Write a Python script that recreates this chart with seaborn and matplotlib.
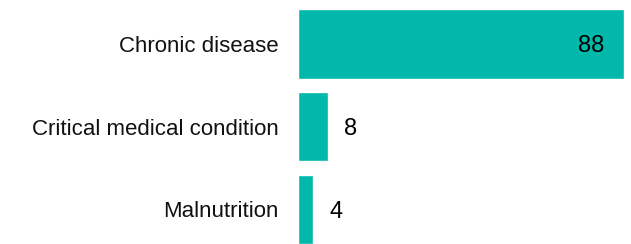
import matplotlib
matplotlib.use("Agg")
import matplotlib.pyplot as plt
import seaborn as sns
import pandas as pd

# Data
categories = ["Chronic disease", "Critical medical condition", "Malnutrition"]
values = [88, 8, 4]

df = pd.DataFrame({"category": categories, "value": values})

sns.set_style("white")
plt.rcParams["font.family"] = ["Liberation Sans", "DejaVu Sans"]

fig = plt.figure(figsize=(6.31, 2.44), dpi=100)
ax = fig.add_axes([298 / 631, 0, 1 - 298 / 631, 1])

sns.barplot(data=df, x="value", y="category", orient="h", color="#01B8AA",
            saturation=1, width=0.84, ax=ax)

ax.set_xlim(0, 90)
ax.set_ylim(2.42, -0.53)
ax.set_xlabel("")
ax.set_ylabel("")
ax.set_xticks([])
ax.tick_params(axis="y", length=0, pad=14, labelsize=16, labelcolor="#111111")
sns.despine(ax=ax, left=True, bottom=True)

# Value labels: inside the long bar, outside the short ones
for i, v in enumerate(values):
    if v > 40:
        ax.annotate(str(v), (v, i), xytext=(-14, 0), textcoords="offset points",
                    ha="right", va="center_baseline", fontsize=17, color="black")
    else:
        ax.annotate(str(v), (v, i), xytext=(12, 0), textcoords="offset points",
                    ha="left", va="center_baseline", fontsize=17, color="black")

fig.savefig("out.png", dpi=100)
